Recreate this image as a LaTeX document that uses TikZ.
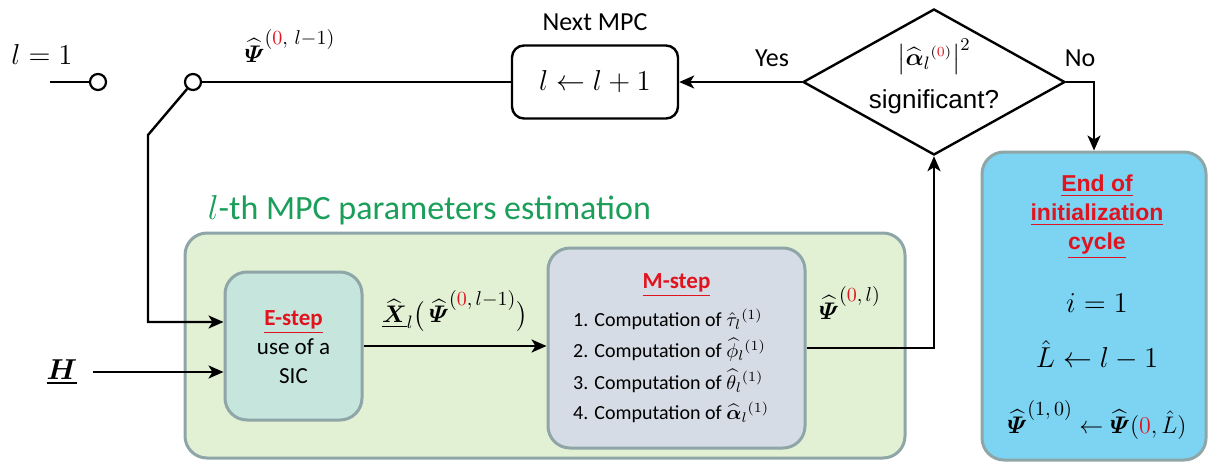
\documentclass[tikz,border=0pt]{standalone}
\usepackage{amsmath,amssymb}
\usepackage{fontspec}
\setmainfont{Carlito}
\newfontfamily\arialf{Liberation Sans}
\usetikzlibrary{arrows.meta,shapes.geometric,calc}
\definecolor{redtxt}{HTML}{E0141E}
\definecolor{titlegreen}{HTML}{1A9E5A}
\definecolor{greenfill}{HTML}{E2F0D4}
\definecolor{boxborder}{HTML}{8FA6A8}
\definecolor{efill}{HTML}{C6E5DD}
\definecolor{mfill}{HTML}{D5DCE5}
\definecolor{endfill}{HTML}{7DD3F2}
\newcommand{\bPsi}{\widehat{\boldsymbol{\varPsi}}}
\newcommand{\supx}[1]{\mbox{\fontsize{10}{12}\selectfont$#1$}}
\newcommand{\supm}[1]{\mbox{\fontsize{7.5}{9}\selectfont$#1$}}
\begin{document}
\begin{tikzpicture}[x=0.5pt,y=-0.5pt,
  line width=1.2pt,
  arr/.style={-{Stealth[length=7.5pt,width=6.5pt,inset=2pt]}},
  circ/.style={circle,draw,fill=white,minimum size=8pt,inner sep=0pt,line width=1.1pt},
  math28/.style={font=\fontsize{14}{16}\selectfont},
  math26/.style={font=\fontsize{12.5}{15}\selectfont},
  lbl/.style={font=\fontsize{13}{15}\selectfont},
  item/.style={anchor=west,inner sep=1pt,font=\fontsize{10}{12}\selectfont},
  softbox/.style={draw=boxborder,line width=1.5pt,rounded corners=11pt},
]
\useasboundingbox (0,0) rectangle (1208,465);

% top-left switch
\node[math28] (l1) at (42,55) {$l=1$};
\coordinate (s0) at (50,82);
\node[circ] (c1) at (98,82) {};
\node[circ] (c2) at (193,82) {};
\coordinate (k1) at (148,135);
\node[math26] (psitop) at (290,46) {$\bPsi^{\supx{(\textcolor{redtxt}{0},\,l{-}1)}}$};

% next MPC
\node[draw,rounded corners=6pt,minimum width=83pt,minimum height=36.5pt,math28] (nb) at (595,82) {$l \leftarrow l+1$};
\node[lbl] (nmpc) at (595,22) {Next MPC};

% decision diamond
\node[diamond,draw,minimum width=131pt,minimum height=73pt,inner sep=0pt] (dia) at (934,82) {};
\node[math26,inner sep=1pt] (dtxt1) at (934,57) {$\bigl|\widehat{\boldsymbol{\alpha}}_{l}{}^{\supm{(\textcolor{redtxt}{0})}}\bigr|^{2}$};
\node[font=\arialf\fontsize{13}{15}\selectfont,inner sep=1pt] (dtxt2) at (934,102) {significant?};
\node[lbl] (yes) at (772,58) {Yes};
\node[lbl] (no) at (1080,58) {No};

% end box
\node[softbox,fill=endfill,minimum width=112pt,minimum height=154pt] (eb) at (1094,306) {};
\node[font=\arialf\bfseries\fontsize{11.5}{14.5}\selectfont,text=redtxt,align=center] (ebt) at (1097,217)
  {\underline{End of}\\\underline{initialization}\\\underline{cycle}};
\node[math28] (eb1) at (1097,303) {$i=1$};
\node[math28] (eb2) at (1097,355) {$\hat{L}\leftarrow l-1$};
\node[font=\fontsize{13}{15}\selectfont] (eb3) at (1097,420) {$\bPsi^{\supx{(1,0)}}\leftarrow\bPsi(\textcolor{redtxt}{0},\hat{L})$};

% green estimation box
\node[softbox,fill=greenfill,minimum width=360pt,minimum height=112.5pt] (gb) at (545,345.5) {};
\node[anchor=west,text=titlegreen,font=\fontsize{17}{20}\selectfont] (title) at (200,210) {$l$-th MPC parameters estimation};

% E-step
\node[softbox,fill=efill,minimum width=68.5pt,minimum height=74pt] (es) at (293.5,346) {};
\node[align=center,font=\fontsize{11.5}{14.5}\selectfont] (est) at (293.5,347)
  {\textcolor{redtxt}{\bfseries\underline{E-step}}\\use of a\\SIC};

% M-step
\node[softbox,fill=mfill,minimum width=128.5pt,minimum height=100pt] (ms) at (676.5,348) {};
\node[font=\bfseries\fontsize{11.5}{14}\selectfont,text=redtxt] (mst) at (676.5,285) {\underline{M-step}};
\node[item] (m1) at (570,319) {1. Computation of $\hat{\tau}_{l}{}^{(1)}$};
\node[item] (m2) at (570,350) {2. Computation of $\widehat{\phi}_{l}{}^{(1)}$};
\node[item] (m3) at (570,381) {3. Computation of $\widehat{\theta}_{l}{}^{(1)}$};
\node[item] (m4) at (570,412) {4. Computation of $\widehat{\boldsymbol{\alpha}}_{l}{}^{(1)}$};

% H input
\node[math28,inner xsep=7pt] (H) at (62,372) {$\underline{\boldsymbol{H}}$};

% labels on connectors
\node[math26] (xlab) at (455,311) {$\underline{\widehat{\boldsymbol{X}}}_{l}\bigl(\,\bPsi^{\supx{(\textcolor{redtxt}{0},l{-}1)}}\bigr)$};
\node[math26] (psil) at (850,303) {$\bPsi^{\supx{(\textcolor{redtxt}{0},l)}}$};

% connectors
\draw (s0) -- (c1);
\draw (c2) -- (nb.west);
\draw[arr] (c2) -- (k1) |- ($(es.west)+(0,-24)$);
\draw[arr] (H.east) -- (H.east -| es.west);
\draw[arr] (es.east) -- (es.east -| ms.west);
\draw[arr] (ms.east) -| (dia.south);
\draw[arr] (dia.west) -- (nb.east);
\draw[arr] (dia.east) -| (eb.north);
\end{tikzpicture}
\end{document}
